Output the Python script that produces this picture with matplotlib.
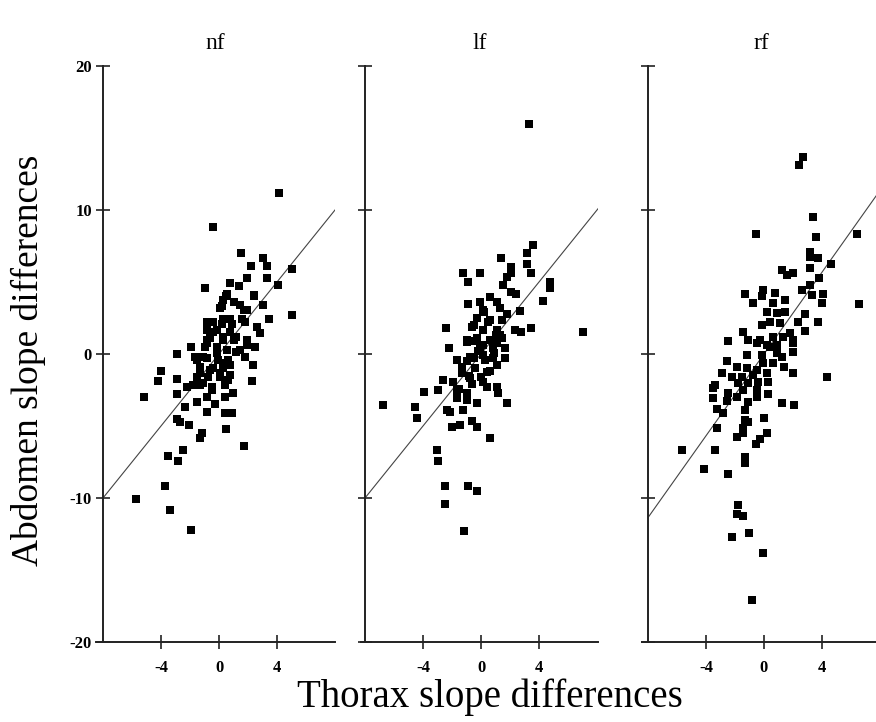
"""
Abdomen vs thorax slope differences for the three conditions (nf, lf, rf)
"""
import matplotlib
matplotlib.use("Agg")
import matplotlib.pyplot as plt
import numpy as np

plt.rcParams['font.family'] = ['Liberation Serif', 'DejaVu Serif']

# panel names
panels = ["nf", "lf", "rf"]

# nf panel points (thorax, abdomen)
nf_pts = [(4.14, 11.2), (-0.41, 8.8), (1.5, 7.0), (3.0, 6.7), (2.2, 6.1), (3.3, 6.1), (1.9, 5.3),
          (3.3, 5.3), (5.0, 5.9), (4.1, 4.8), (-1.0, 4.6), (0.76, 4.9), (1.36, 4.7), (5.0, 2.7),
          (3.45, 2.4), (2.4, 4.0), (3.0, 3.4), (0.46, 4.0), (0.2, 3.3), (1.0, 3.6), (1.75, 3.05),
          (-0.85, 2.25), (0.2, 2.1), (0.76, 2.4), (1.56, 2.4), (2.6, 1.9), (2.8, 1.45), (-1.9, 0.46),
          (-0.85, 0.97), (-0.4, 1.55), (0.3, 1.2), (1.2, 1.2), (1.9, 0.6), (2.5, 0.5),
          (-2.9, 0.0), (-0.85, 0.74), (1.2, 0.16), (2.37, -0.76), (2.25, -1.9), (-4.0, -1.2),
          (-4.2, -1.9), (-2.9, -1.76), (-5.2, -2.96), (-2.9, -2.8), (-1.54, -0.4), (-1.08, -0.18),
          (-0.16, 0.05), (0.3, -0.65), (0.76, -0.76), (-0.62, -1.1), (0.07, -1.3), (0.64, -1.8),
          (-1.3, -1.3), (-2.2, -2.3), (-1.77, -2.15), (-1.08, -2.0), (-0.5, -2.5), (0.99, -2.7),
          (0.4, -2.96), (-0.85, -2.96), (-1.54, -3.3), (-2.34, -3.66), (-0.28, -3.5),
          (-0.85, -4.05), (0.41, -4.1), (0.87, -4.1), (-2.9, -4.5), (-2.7, -4.7), (-2.07, -4.9),
          (0.46, -5.2), (-1.15, -5.5), (-1.3, -5.8), (1.75, -6.4), (-2.5, -6.7), (-3.5, -7.1),
          (-2.8, -7.4), (-3.7, -9.2), (-5.74, -10.1), (-3.4, -10.8), (-1.9, -12.2),
          (2.4, 4.1), (0.53, 4.2), (0.3, 3.75), (1.45, 3.4), (0.07, 3.2), (1.9, 3.05),
          (-0.4, 2.25), (0.3, 2.4), (0.87, 2.1), (1.8, 2.25), (-0.85, 1.67), (-0.16, 1.67),
          (0.76, 1.55), (-0.62, 1.1), (0.3, 0.97), (1.0, 0.97), (1.9, 0.97), (-0.97, 0.5),
          (-0.16, 0.5), (0.53, 0.28), (1.45, 0.28), (1.8, -0.19), (-1.65, -0.19), (-0.85, -0.3),
          (-0.05, -0.42), (0.64, -0.42), (-1.3, -0.88), (-0.4, -1.0), (0.3, -1.0), (-1.54, -1.58),
          (-0.74, -1.58), (0.07, -1.58), (0.76, -1.46), (-1.3, -2.15), (-0.5, -2.27), (0.41, -2.15)]

# lf panel points
lf_pts = [(3.3, 16.0), (3.56, 7.57), (3.15, 7.0), (1.38, 6.7), (3.15, 6.25), (2.1, 6.06),
          (2.1, 5.65), (-1.26, 5.65), (-0.07, 5.65), (3.45, 5.65), (-0.87, 5.0), (1.77, 5.37),
          (4.76, 5.0), (4.76, 4.56), (1.54, 4.8), (2.1, 4.3), (2.4, 4.16), (4.3, 3.7), (-0.87, 3.47),
          (-0.07, 3.6), (0.62, 3.98), (1.08, 3.6), (2.7, 3.0), (0.16, 3.05), (1.3, 3.17), (1.77, 2.8),
          (-0.3, 2.47), (0.62, 2.36), (1.43, 2.36), (-2.43, 1.78), (-0.64, 1.9), (0.16, 1.67),
          (1.08, 1.67), (2.34, 1.67), (2.74, 1.5), (3.45, 1.78), (7.0, 1.5), (-0.99, 0.97),
          (-0.3, 1.08), (0.62, 0.97), (1.43, 1.08), (-2.19, 0.4), (-0.07, 0.4), (0.85, 0.4),
          (-0.99, 0.85), (0.16, 0.63), (1.08, 0.74), (1.66, 0.4), (1.66, -0.3), (-1.68, -0.42),
          (-0.76, -0.19), (0.16, -0.07), (1.08, -0.76), (-1.33, -0.88), (-0.41, -1.0), (0.39, -1.23),
          (-1.33, -1.34), (-2.6, -1.8), (-1.91, -1.92), (-0.76, -1.69), (0.16, -1.92), (1.08, -2.27),
          (-3.93, -2.66), (-2.94, -2.5), (-1.68, -2.5), (-0.99, -2.73), (1.2, -2.7), (-1.68, -3.08),
          (-0.99, -3.2), (-0.3, -3.42), (1.82, -3.38), (-6.78, -3.54), (-4.55, -3.7), (-2.37, -3.9),
          (-1.22, -3.9), (-4.43, -4.47), (-2.14, -4.0), (-0.64, -4.63), (-2.02, -5.05),
          (-1.45, -4.93), (-0.3, -5.05), (0.62, -5.8), (-3.06, -6.67), (-2.94, -7.4), (-2.48, -9.17),
          (-0.87, -9.17), (-0.3, -9.5), (-2.48, -10.4), (-1.15, -12.3),
          (-0.5, 2.0), (0.5, 2.2), (1.0, 1.3), (-0.2, 0.2), (0.3, -0.4), (0.9, 0.1), (-1.0, -0.5),
          (-0.5, -0.3), (0.6, -1.2), (-0.8, -1.5), (0.0, -1.6), (0.8, -0.3), (1.3, 1.3),
          (-0.4, 0.9), (0.4, -2.3), (-1.5, -2.4), (-0.6, -2.1), (0.2, 2.9)]

# rf panel points
rf_pts = [(2.71, 13.7), (2.41, 13.1), (3.4, 9.5), (-0.57, 8.3), (3.59, 8.15), (6.39, 8.3),
          (3.17, 7.1), (3.17, 6.76), (3.74, 6.7), (4.62, 6.25), (1.22, 5.8), (1.56, 5.5),
          (1.98, 5.65), (3.17, 5.95), (3.81, 5.3), (-1.31, 4.17), (-0.05, 4.44), (-0.16, 4.03),
          (0.76, 4.26), (2.6, 4.44), (3.17, 4.8), (3.29, 4.1), (4.09, 4.17), (3.98, 3.56),
          (6.55, 3.45), (-0.74, 3.56), (0.64, 3.56), (1.45, 3.75), (0.18, 2.94), (0.87, 2.83),
          (1.45, 2.94), (2.83, 2.75), (2.37, 2.24), (3.74, 2.24), (2.83, 1.62), (0.41, 2.24),
          (1.1, 2.13), (-0.16, 2.0), (1.79, 1.43), (-1.43, 1.55), (-2.46, 0.92), (-1.08, 0.97),
          (-0.28, 0.97), (0.64, 1.2), (1.33, 1.2), (2.02, 0.97), (0.18, 0.63), (0.87, 0.63),
          (-0.5, 0.74), (0.41, 0.5), (2.02, 0.74), (1.98, 0.16), (-1.2, -0.07), (-0.16, -0.07),
          (0.87, 0.05), (1.22, -0.19), (-2.57, -0.47), (-0.05, -0.65), (0.64, -0.65), (1.4, -0.88),
          (2.02, -1.34), (4.32, -1.62), (-1.88, -0.88), (-1.2, -1.0), (-0.5, -1.1), (-2.92, -1.34),
          (-2.23, -1.58), (-1.54, -1.58), (-0.74, -1.46), (0.18, -1.34), (-1.77, -2.04),
          (-1.08, -2.04), (-3.38, -2.15), (-3.5, -2.38), (-0.39, -1.92), (0.3, -1.92),
          (-2.46, -2.73), (-1.43, -2.5), (-0.5, -2.5), (0.3, -2.78), (-3.5, -3.08), (-2.57, -3.24),
          (-1.88, -2.96), (-1.08, -3.3), (-0.5, -2.96), (1.22, -3.38), (2.09, -3.54), (-3.22, -3.84),
          (-2.8, -4.13), (-1.31, -3.9), (-1.31, -4.58), (0.02, -4.47), (-1.13, -4.7), (-3.22, -5.16),
          (-1.43, -5.16), (-1.43, -5.5), (0.18, -5.46), (-1.88, -5.74), (-0.28, -5.92),
          (-0.57, -6.25), (-5.63, -6.67), (-3.38, -6.67), (-1.31, -7.13), (-1.31, -7.55),
          (-4.12, -8.0), (-2.5, -8.3), (-1.77, -10.5), (-1.88, -11.1), (-1.43, -11.25),
          (-2.19, -12.7), (-1.01, -12.45), (-0.09, -13.8), (-0.85, -17.1)]

# fitted lines: slope, intercept
fit_slope = [1.25, 1.25, 1.42]
fit_icpt = [0.0, 0.0, 0.0]

all_pts = [nf_pts, lf_pts, rf_pts]

fig = plt.figure(figsize=(8.76, 7.22), dpi=100)
W, H = 876.0, 722.0
PX = 14.5   # pixels per x unit

# zero position (pixels) and x limits for each panel
zeros = [219, 481, 764]
xlims = [(-8.5, 8.0), (-8.3, 8.1), (-8.4, 8.0)]
top_px, bot_px = 66, 642

for i, (x0, xl) in enumerate(zip(zeros, xlims)):
    l = x0 + xl[0] * PX
    r = x0 + xl[1] * PX
    ax = fig.add_axes([l / W, 1 - bot_px / H, (r - l) / W, (bot_px - top_px) / H])
    px, py = zip(*all_pts[i])
    ax.scatter(px, py, marker="s", s=26, color="black", linewidths=0, zorder=3)
    xx = np.array([-8.0, xl[1]])
    ax.plot(xx, fit_slope[i] * xx + fit_icpt[i], color="#444444", lw=0.8, zorder=2)
    ax.set_xlim(*xl)
    ax.set_ylim(-20, 20)
    for s in ["top", "right"]:
        ax.spines[s].set_visible(False)
    for s in ["left", "bottom"]:
        ax.spines[s].set_linewidth(1.4)
        ax.spines[s].set_color("#222222")
    ax.spines["left"].set_position(("data", -8.0))
    ax.set_xticks([-4, 0, 4])
    ax.set_xticklabels(["-4", "0", "4"], fontweight="bold", fontsize=12)
    ax.set_yticks([-20, -10, 0, 10, 20])
    if i == 0:
        ax.set_yticklabels(["-20", "-10", "0", "10", "20"], fontweight="bold", fontsize=12)
    else:
        ax.set_yticklabels([])
    ax.tick_params(direction="inout", length=10, width=1.2, color="#222222", pad=3)
    ax.tick_params(axis="x", pad=8)
    ax.set_title(panels[i], fontsize=17, pad=12)
    ax.patch.set_alpha(0)

fig.text(28 / W, 1 - 360 / H, "Abdomen slope differences", rotation=90,
         ha="center", va="center", fontsize=27)
fig.text(490 / W, 1 - 697 / H, "Thorax slope differences", ha="center", va="center",
         fontsize=28)

fig.savefig("out.png", dpi=100)
